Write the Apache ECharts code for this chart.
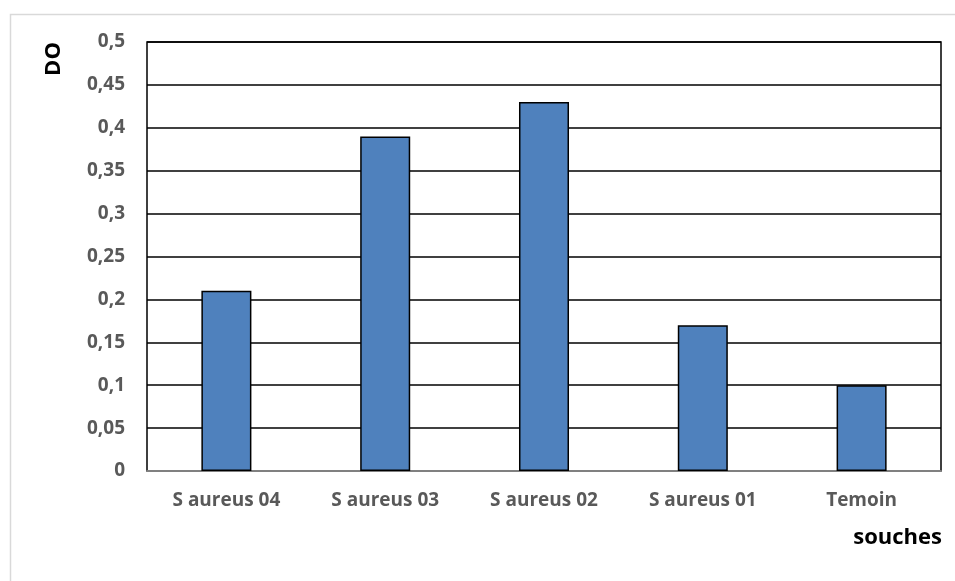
<!DOCTYPE html>
<html>
<head>
<meta charset="utf-8">
<script src="https://cdn.jsdelivr.net/npm/echarts@6/dist/echarts.min.js"></script>
<style>
  html, body { margin: 0; padding: 0; background: #fff; }
  #chart { width: 955px; height: 581px; }
</style>
</head>
<body>
<div id="chart"></div>
<script>
// Optical density (DO) measured for each strain
const categories = ['S aureus 04', 'S aureus 03', 'S aureus 02', 'S aureus 01', 'Temoin'];
const doValues = [0.21, 0.39, 0.43, 0.17, 0.10];
const yTicks = { min: 0, max: 0.5, step: 0.05 };

const fontFamily = '"Open Sans", "Noto Sans", sans-serif';
const chart = echarts.init(document.getElementById('chart'), null, { renderer: 'canvas' });

chart.setOption({
  backgroundColor: '#ffffff',
  animation: false,
  grid: {
    left: 147, right: 14, top: 42, bottom: 110,
    show: true, borderColor: '#000000', borderWidth: 1.5, backgroundColor: 'transparent'
  },
  xAxis: {
    type: 'category',
    data: categories,
    axisLine: { show: true, lineStyle: { color: '#a6a6a6', width: 1.5 } },
    axisTick: { show: false },
    axisLabel: { color: '#595959', fontWeight: 'bold', fontSize: 19, fontFamily, margin: 20 }
  },
  yAxis: {
    type: 'value',
    min: yTicks.min, max: yTicks.max, interval: yTicks.step,
    axisLine: { show: false },
    axisTick: { show: false },
    splitLine: { lineStyle: { color: '#000000', width: 1.5 } },
    axisLabel: {
      color: '#595959', fontWeight: 'bold', fontSize: 19, fontFamily, margin: 22,
      formatter: v => String(Math.round(v * 100) / 100).replace('.', ',')
    }
  },
  graphic: [
    {
      type: 'rect', left: 8, top: 12, silent: true,
      shape: { width: 1000, height: 700 },
      style: { fill: 'none', stroke: '#d9d9d9', lineWidth: 1.5 }
    },
    {
      type: 'text', x: 54, y: 59, rotation: Math.PI / 2, silent: true,
      style: { text: 'DO', fill: '#000', font: 'bold 22px ' + fontFamily,
        textAlign: 'center', textVerticalAlign: 'middle' }
    },
    {
      type: 'text', x: 942, y: 538, silent: true,
      style: { text: 'souches', fill: '#000', font: 'bold 22px ' + fontFamily,
        textAlign: 'right', textVerticalAlign: 'middle' }
    }
  ],
  series: [{
    type: 'bar',
    data: doValues,
    barWidth: '31.5%',
    itemStyle: { color: '#4f81bd', borderColor: '#000000', borderWidth: 1.5 }
  }]
});
</script>
</body>
</html>
